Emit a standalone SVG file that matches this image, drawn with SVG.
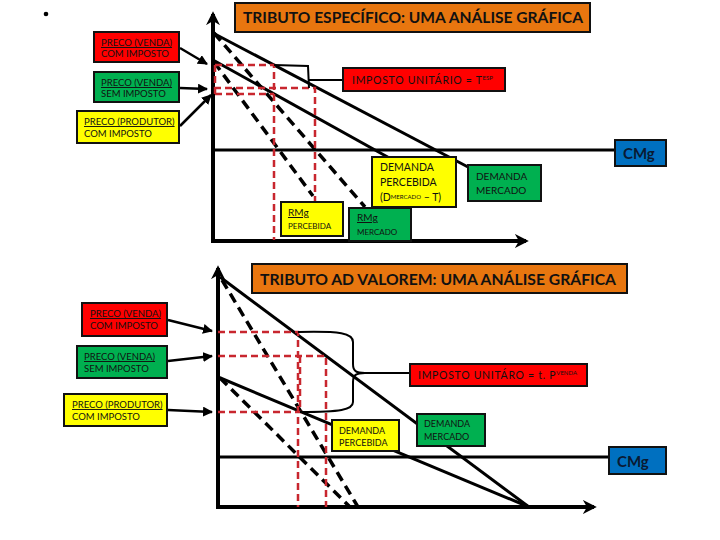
<svg xmlns="http://www.w3.org/2000/svg" width="720" height="540" viewBox="0 0 720 540">
<style>
text{font-family:Lato,"Liberation Sans","DejaVu Sans",sans-serif;fill:#111}
.box{stroke:#111;stroke-width:2}
.red{fill:#FF0000}.green{fill:#00B050}.yellow{fill:#FFFF00}.orange{fill:#E8760F}.blue{fill:#0070C0}
.title{font-size:16px;font-weight:bold}
.sm{font-size:9.5px}
.imp{font-size:10.5px;letter-spacing:0.7px}
.cmg{font-size:15px;font-weight:bold;fill:#0a1a33}
.axis{stroke:#000;stroke-width:4;fill:none}
.dem{stroke:#000;stroke-width:3;fill:none}
.mr{stroke:#000;stroke-width:3.5;fill:none;stroke-dasharray:10 6}
.rd{stroke:#C8262E;stroke-width:2.5;fill:none;stroke-dasharray:7 4}
.arr{stroke:#000;stroke-width:2.5;fill:none;marker-end:url(#ah)}
.br{stroke:#000;stroke-width:2;fill:none}
</style>
<defs>
<marker id="ah" viewBox="0 0 10 10" refX="9" refY="5" markerWidth="4" markerHeight="4" orient="auto"><path d="M0,0L10,5L0,10z" fill="#000"/></marker>
<marker id="ax" viewBox="0 0 10 10" refX="8" refY="5" markerWidth="3.5" markerHeight="3.5" orient="auto"><path d="M0,0L10,5L0,10L3,5z" fill="#000"/></marker>
</defs>

<circle cx="46" cy="14" r="2.3" fill="#000"/>

<!-- TOP CHART -->
<g id="connectors-top">
<path class="axis" d="M213,241V14" marker-end="url(#ax)"/>
<path class="axis" d="M211,241H526" marker-end="url(#ax)"/>
<path class="dem" d="M213,150H615"/>
<path class="dem" d="M213,33L468,167"/>
<path class="dem" d="M213,60L393,160"/>
<path class="mr" d="M214,33L365,207"/>
<path class="mr" d="M214,62L313,196"/>
<path class="rd" d="M215,65H274V240M215,65V94M214,88H315V240M215,94H274"/>
<path class="br" d="M274,65L308,66L309,88M309,80H343"/>
<path class="arr" d="M180,48L207,64"/>
<path class="arr" d="M180,88L207,89"/>
<path class="arr" d="M180,126L211,95"/>
</g>

<g id="title-top"><rect class="box orange" x="235" y="3" width="355" height="29"/>
<text class="title" x="243" y="23" textLength="340" lengthAdjust="spacingAndGlyphs">TRIBUTO ESPECÍFICO: UMA ANÁLISE GRÁFICA</text></g>

<g id="pv-com-top"><rect class="box red" x="94" y="32" width="85" height="30"/>
<text class="sm" x="101" y="46" text-decoration="underline">PRECO (VENDA)</text>
<text class="sm" x="101" y="57">COM IMPOSTO</text></g>

<g id="pv-sem-top"><rect class="box green" x="94" y="72" width="85" height="30"/>
<text class="sm" x="101" y="86" text-decoration="underline">PRECO (VENDA)</text>
<text class="sm" x="101" y="97">SEM IMPOSTO</text></g>

<g id="pp-com-top"><rect class="box yellow" x="77" y="111" width="102" height="32"/>
<text class="sm" x="84" y="125" text-decoration="underline">PRECO (PRODUTOR)</text>
<text class="sm" x="84" y="137">COM IMPOSTO</text></g>

<g id="imposto-top"><rect class="box red" x="343" y="68" width="162" height="23"/>
<text class="imp" x="352" y="84">IMPOSTO UNITÁRIO =  T<tspan font-size="6" letter-spacing="0" dy="-4">ESP</tspan></text></g>

<g id="cmg-top"><rect class="box blue" x="615" y="140" width="51" height="26"/>
<text class="cmg" x="623" y="159">CMg</text></g>

<g id="dem-perc-top"><rect class="box yellow" x="372" y="157" width="84" height="50"/>
<text x="380" y="171" font-size="10.5">DEMANDA</text>
<text x="380" y="186" font-size="10.5">PERCEBIDA</text>
<text x="380" y="201" font-size="10.5">(D<tspan font-size="6" dy="-2">MERCADO</tspan><tspan dy="2"> – T)</tspan></text></g>

<g id="dem-merc-top"><rect class="box green" x="468" y="165" width="73" height="36"/>
<text x="476" y="180" font-size="10">DEMANDA</text>
<text x="476" y="194" font-size="10">MERCADO</text></g>

<g id="rmg-perc-top"><rect class="box yellow" x="281" y="202" width="62" height="34"/>
<text x="288" y="216" font-size="10" text-decoration="underline">RMg</text>
<text x="288" y="229" font-size="8">PERCEBIDA</text></g>

<g id="rmg-merc-top"><rect class="box green" x="349" y="208" width="62" height="33"/>
<text x="357" y="221" font-size="10" text-decoration="underline">RMg</text>
<text x="357" y="235" font-size="8">MERCADO</text></g>

<!-- BOTTOM CHART -->
<g id="connectors-bottom">
<path class="axis" d="M218,508V268" marker-end="url(#ax)"/>
<path class="axis" d="M216,507H594" marker-end="url(#ax)"/>
<path class="dem" d="M218,457H609"/>
<path class="dem" d="M220,277L529,507"/>
<path class="dem" d="M218,377L529,507"/>
<path class="mr" d="M222,280L358,507"/>
<path class="mr" d="M220,378L350,507"/>
<path class="rd" d="M218,332H298V507M218,356H326V507M300,356V412M218,412H302"/>
<path class="br" d="M298,332C340,331 353,333 353,342V364C353,371 356,373 365,373H410M300,412C340,412 353,410 353,402V382C353,375 356,373 365,373"/>
<path class="arr" d="M168,320L212,331"/>
<path class="arr" d="M168,361L212,356"/>
<path class="arr" d="M168,410L212,412"/>
</g>

<g id="title-bottom"><rect class="box orange" x="252" y="264" width="375" height="29"/>
<text class="title" x="260" y="285" textLength="356" lengthAdjust="spacingAndGlyphs">TRIBUTO AD VALOREM: UMA ANÁLISE GRÁFICA</text></g>

<g id="pv-com-bottom"><rect class="box red" x="82" y="303" width="85" height="33"/>
<text class="sm" x="90" y="317" text-decoration="underline">PRECO (VENDA)</text>
<text class="sm" x="90" y="329">COM IMPOSTO</text></g>

<g id="pv-sem-bottom"><rect class="box green" x="77" y="346" width="90" height="32"/>
<text class="sm" x="84" y="360" text-decoration="underline">PRECO (VENDA)</text>
<text class="sm" x="84" y="372">SEM IMPOSTO</text></g>

<g id="pp-com-bottom"><rect class="box yellow" x="64" y="394" width="103" height="32"/>
<text class="sm" x="72" y="408" text-decoration="underline">PRECO (PRODUTOR)</text>
<text class="sm" x="72" y="420">COM IMPOSTO</text></g>

<g id="imposto-bottom"><rect class="box red" x="410" y="364" width="177" height="22"/>
<text class="imp" x="418" y="379">IMPOSTO  UNITÁRO =  t. P<tspan font-size="6" letter-spacing="0" dy="-4">VENDA</tspan></text></g>

<g id="cmg-bottom"><rect class="box blue" x="609" y="447" width="57" height="27"/>
<text class="cmg" x="617" y="467">CMg</text></g>

<g id="dem-perc-bottom"><rect class="box yellow" x="332" y="420" width="67" height="31"/>
<text x="339" y="434" font-size="9">DEMANDA</text>
<text x="339" y="446" font-size="9">PERCEBIDA</text></g>

<g id="dem-merc-bottom"><rect class="box green" x="417" y="414" width="68" height="32"/>
<text x="424" y="427" font-size="9">DEMANDA</text>
<text x="424" y="440" font-size="9">MERCADO</text></g>
</svg>
